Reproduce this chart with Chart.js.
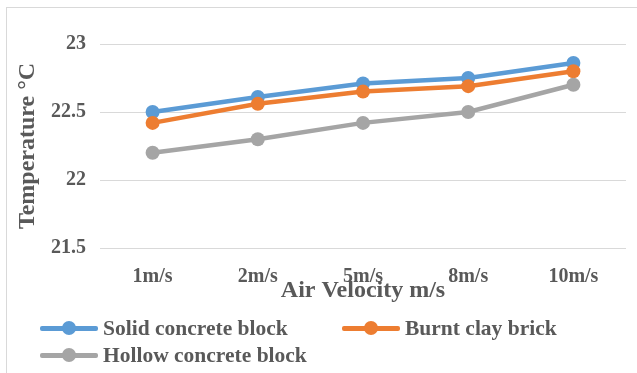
<!DOCTYPE html>
<html>
<head>
<meta charset="utf-8">
<script src="https://cdn.jsdelivr.net/npm/chart.js@4"></script>
<style>
  html, body { margin: 0; padding: 0; background: #fff; }
  #wrap { position: relative; width: 637px; height: 373px; overflow: hidden; }
  #frame { position: absolute; left: 6px; top: 7px; width: 640px; height: 380px;
           border-top: 1px solid #d9d9d9; border-left: 1px solid #d9d9d9; }
  #tempChart { position: absolute; left: 0; top: 0; }
  .legend-item { position: absolute; height: 24px; display: flex; align-items: center;
                 font-family: "Liberation Serif", serif; font-weight: bold; font-size: 21.5px; color: #595959; }
  .legend-mark { position: relative; width: 58px; height: 24px; margin-right: 5px; }
  .legend-mark .ln { position: absolute; left: 0; right: 0; top: 10px; height: 5px; border-radius: 2px; }
  .legend-mark .dot { position: absolute; left: 22px; top: 5px; width: 14px; height: 14px; border-radius: 50%; }
</style>
</head>
<body>
<div id="wrap">
  <div id="frame"></div>
  <canvas id="tempChart" width="637" height="373"></canvas>
  <div id="legend"></div>
</div>
<script>
// data
const velocities = ["1m/s", "2m/s", "5m/s", "8m/s", "10m/s"];
const solidBlock = [22.50, 22.61, 22.71, 22.75, 22.86];
const burntBrick = [22.42, 22.56, 22.65, 22.69, 22.80];
const hollowBlock = [22.20, 22.30, 22.42, 22.50, 22.70];
const yTicks = [21.5, 22, 22.5, 23];

const seriesNames = ["Solid concrete block", "Burnt clay brick", "Hollow concrete block"];
const seriesColors = ["#5b9bd5", "#ed7d31", "#a5a5a5"];
const seriesData = [solidBlock, burntBrick, hollowBlock];

const fontFamily = '"Liberation Serif", serif';
const textColor = "#595959";

// --- legend (two columns like Excel) ---
const legendPos = [
  { left: 40, top: 316 },
  { left: 342, top: 316 },
  { left: 40, top: 343 }
];
const legendBox = document.getElementById("legend");
seriesNames.forEach((name, i) => {
  const item = document.createElement("div");
  item.className = "legend-item";
  item.style.left = legendPos[i].left + "px";
  item.style.top = legendPos[i].top + "px";
  item.innerHTML =
    '<span class="legend-mark"><span class="ln" style="background:' + seriesColors[i] + '"></span>' +
    '<span class="dot" style="background:' + seriesColors[i] + '"></span></span>' +
    '<span>' + name + '</span>';
  legendBox.appendChild(item);
});

// --- chart ---
const ctx = document.getElementById("tempChart").getContext("2d");

new Chart(ctx, {
  type: "line",
  data: {
    labels: velocities,
    datasets: seriesNames.map((name, i) => ({
      label: name,
      data: seriesData[i],
      borderColor: seriesColors[i],
      backgroundColor: seriesColors[i],
      pointBackgroundColor: seriesColors[i],
      pointBorderColor: seriesColors[i],
      borderWidth: 4.5,
      pointRadius: 7,
      pointBorderWidth: 0,
      tension: 0,
      fill: false,
      order: 3 - i
    }))
  },
  options: {
    responsive: false,
    animation: false,
    layout: { padding: { left: 8, top: 44, right: 11, bottom: 65 } },
    plugins: {
      legend: { display: false },
      tooltip: { enabled: false }
    },
    scales: {
      x: {
        offset: true,
        grid: { display: false, drawTicks: false },
        border: { display: false },
        ticks: {
          padding: 17,
          color: textColor,
          font: { family: fontFamily, size: 20, weight: "bold" }
        },
        title: {
          display: true,
          text: "Air Velocity m/s",
          color: textColor,
          font: { family: fontFamily, size: 24, weight: "bold" },
          padding: { top: 0, bottom: 3 }
        },
        afterFit: (scale) => { scale.height = 60; }
      },
      y: {
        min: yTicks[0],
        max: yTicks[yTicks.length - 1],
        afterBuildTicks: (scale) => { scale.ticks = yTicks.map(v => ({ value: v })); },
        grid: { color: "#d9d9d9", lineWidth: 1, drawTicks: false },
        border: { display: false },
        ticks: {
          padding: 14,
          color: textColor,
          font: { family: fontFamily, size: 20, weight: "bold" },
          callback: (value) => String(value)
        },
        title: {
          display: true,
          text: "Temperature °C",
          color: textColor,
          font: { family: fontFamily, size: 24, weight: "bold" },
          padding: { top: 5, bottom: 0 }
        },
        afterFit: (scale) => { scale.width = 92; }
      }
    }
  }
});
</script>
</body>
</html>
